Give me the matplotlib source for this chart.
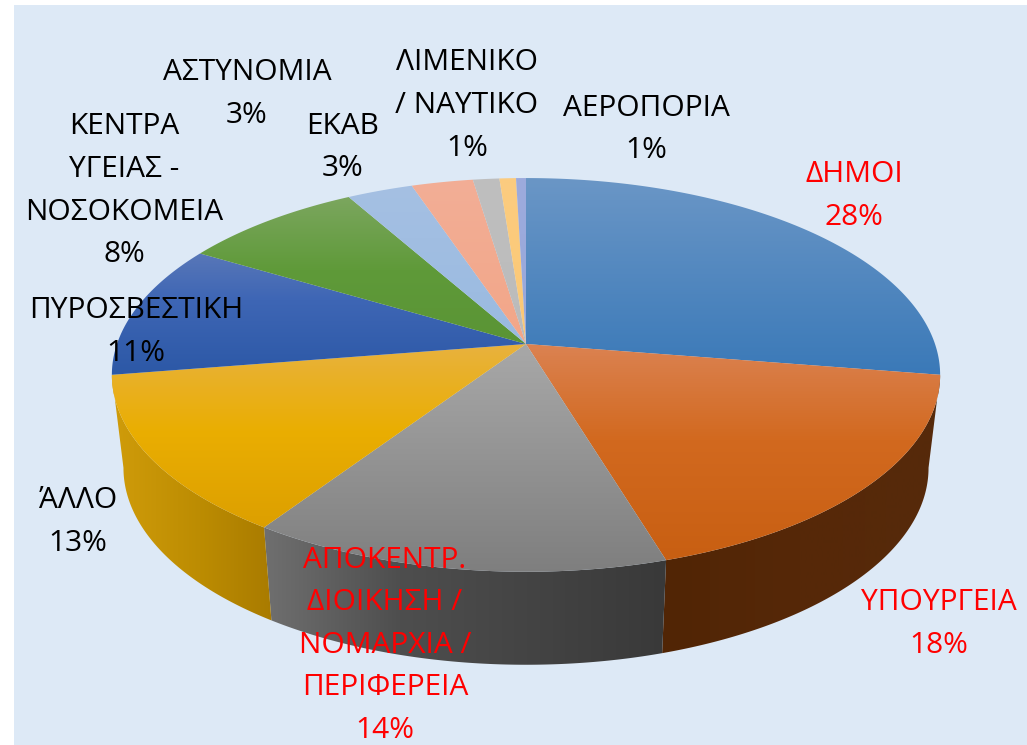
import numpy as np
import matplotlib
matplotlib.use("Agg")
import matplotlib.pyplot as plt
from matplotlib.colors import LinearSegmentedColormap
from matplotlib.patches import Polygon, Rectangle

# ---- data ----
categories = ["ΔΗΜΟΙ", "ΥΠΟΥΡΓΕΙΑ", "ΑΠΟΚΕΝΤΡ.\nΔΙΟΙΚΗΣΗ /\nΝΟΜΑΡΧΙΑ /\nΠΕΡΙΦΕΡΕΙΑ", "ΆΛΛΟ",
              "ΠΥΡΟΣΒΕΣΤΙΚΗ", "ΚΕΝΤΡΑ\nΥΓΕΙΑΣ -\nΝΟΣΟΚΟΜΕΙΑ", "ΑΣΤΥΝΟΜΙΑ", "ΕΚΑΒ",
              "ΛΙΜΕΝΙΚΟ\n/ ΝΑΥΤΙΚΟ", "", "ΑΕΡΟΠΟΡΙΑ"]
shares = [27.5, 17.8, 14.1, 13.1, 11.0, 8.3, 3.0, 2.8, 1.2, 0.75, 0.45]
percent_labels = ["28%", "18%", "14%", "13%", "11%", "8%", "3%", "3%", "1%", "", "1%"]

# ---- style ----
top_stops = [
    [(180, "#6A96C6"), (375, "#3A79B8")],
    [(345, "#DB8251"), (440, "#D2691F"), (560, "#C85F12")],
    [(345, "#A8A8A8"), (575, "#7E7E7E")],
    [(345, "#E8B23E"), (430, "#EAAE02"), (530, "#DC9F00")],
    [(250, "#5A78B8"), (300, "#3E66B5"), (375, "#2C58A6")],
    [(198, "#7BA65E"), (270, "#5F9A39"), (345, "#5A9435")],
    [(185, "#A5C0E3"), (345, "#99BAE0")],
    [(180, "#F2AE96"), (345, "#F3A688")],
    [(178, "#BFBFBF"), (345, "#BBBBBB")],
    [(178, "#FBCC80"), (345, "#FBC874")],
    [(178, "#9DABDD"), (345, "#98A8DA")],
]
# side walls of the slices at index 1, 2, 3
side_slices = [1, 2, 3]
side_stops = [
    [(665, "#512505"), (800, "#562808"), (930, "#562A0B")],
    [(270, "#6E6E6E"), (400, "#4E4E4E"), (667, "#393939")],
    [(112, "#D09C0A"), (200, "#BC8C02"), (272, "#A97B00")],
]
label_colors = ["#FF0000", "#FF0000", "#FF0000", "black", "black", "black", "black", "black", "black", "black", "black"]
BG = "#DDE9F6"

# label layout: centre x, centre y of the first line (pixels)
label_pos = [(854, 172), (939, 600), (385, 557), (78, 498), (136, 308), (124, 124),
             (247, 70), (343, 123), (467, 60), None, (646, 105)]
LINE_H = 42.6
BASE_OFF = 10.5
FONT_SIZE = 21.5

# projection parameters (pixels)
CX, CY, A, B, K = 526, 344, 409, 192, 0.157
SCALE_LOW, DEPTH = 0.972, 93
W, H = 1027, 745


def project(theta):
    u, v = np.sin(theta), np.cos(theta)
    d = 1 + K * v
    return CX + A * u / d, CY - B * v / d


def grad_image(ax, stops, clip, axis, z):
    extent_max = W if axis == "x" else H
    pos = [0.0] + [s[0] / extent_max for s in stops] + [1.0]
    cols = [stops[0][1]] + [s[1] for s in stops] + [stops[-1][1]]
    cmap = LinearSegmentedColormap.from_list("g", list(zip(pos, cols)), N=1024)
    g = np.linspace(0, 1, 1024)
    data = g[:, None] if axis == "y" else g[None, :]
    im = ax.imshow(data, cmap=cmap, extent=(0, W, H, 0), aspect="auto", zorder=z,
                   vmin=0, vmax=1, interpolation="bilinear", origin="upper")
    patch = Polygon(clip, closed=True, transform=ax.transData, facecolor="none", edgecolor="none")
    ax.add_patch(patch)
    im.set_clip_path(patch)


fig = plt.figure(figsize=(10.27, 7.45), dpi=100, facecolor="white")
ax = fig.add_axes([0, 0, 1, 1])
ax.set_xlim(0, W)
ax.set_ylim(H, 0)
ax.axis("off")
ax.add_patch(Rectangle((14, 5), W - 14, H - 5, facecolor=BG, edgecolor="none", zorder=0))

edges = np.radians(np.concatenate([[0], np.cumsum(shares)]) / np.sum(shares) * 360)

# side wall of the front slices
for n, (i, stops) in enumerate(zip(side_slices, side_stops)):
    t = np.linspace(edges[i], edges[i + 1], 160)
    xt, yt = project(t)
    xb, yb = CX + SCALE_LOW * (xt - CX), yt + DEPTH
    poly = np.column_stack([np.r_[xt, xb[::-1]], np.r_[yt, yb[::-1]]])
    grad_image(ax, stops, poly, "x", 2 + n * 0.01)

# top faces
for i, stops in enumerate(top_stops):
    t = np.linspace(edges[i], edges[i + 1], 160)
    xt, yt = project(t)
    poly = np.column_stack([np.r_[CX, xt], np.r_[CY, yt]])
    grad_image(ax, stops, poly, "y", 3 + i * 0.01)

ax.set_xlim(0, W)
ax.set_ylim(H, 0)

# labels
for cat, pct, col, pos in zip(categories, percent_labels, label_colors, label_pos):
    if pos is None:
        continue
    lines = cat.split("\n") + [pct]
    for j, line in enumerate(lines):
        ax.text(pos[0], pos[1] + j * LINE_H + BASE_OFF, line, color=col, ha="center", va="baseline",
                fontsize=FONT_SIZE, family="Open Sans", zorder=10)

fig.savefig("out.png", dpi=100)
